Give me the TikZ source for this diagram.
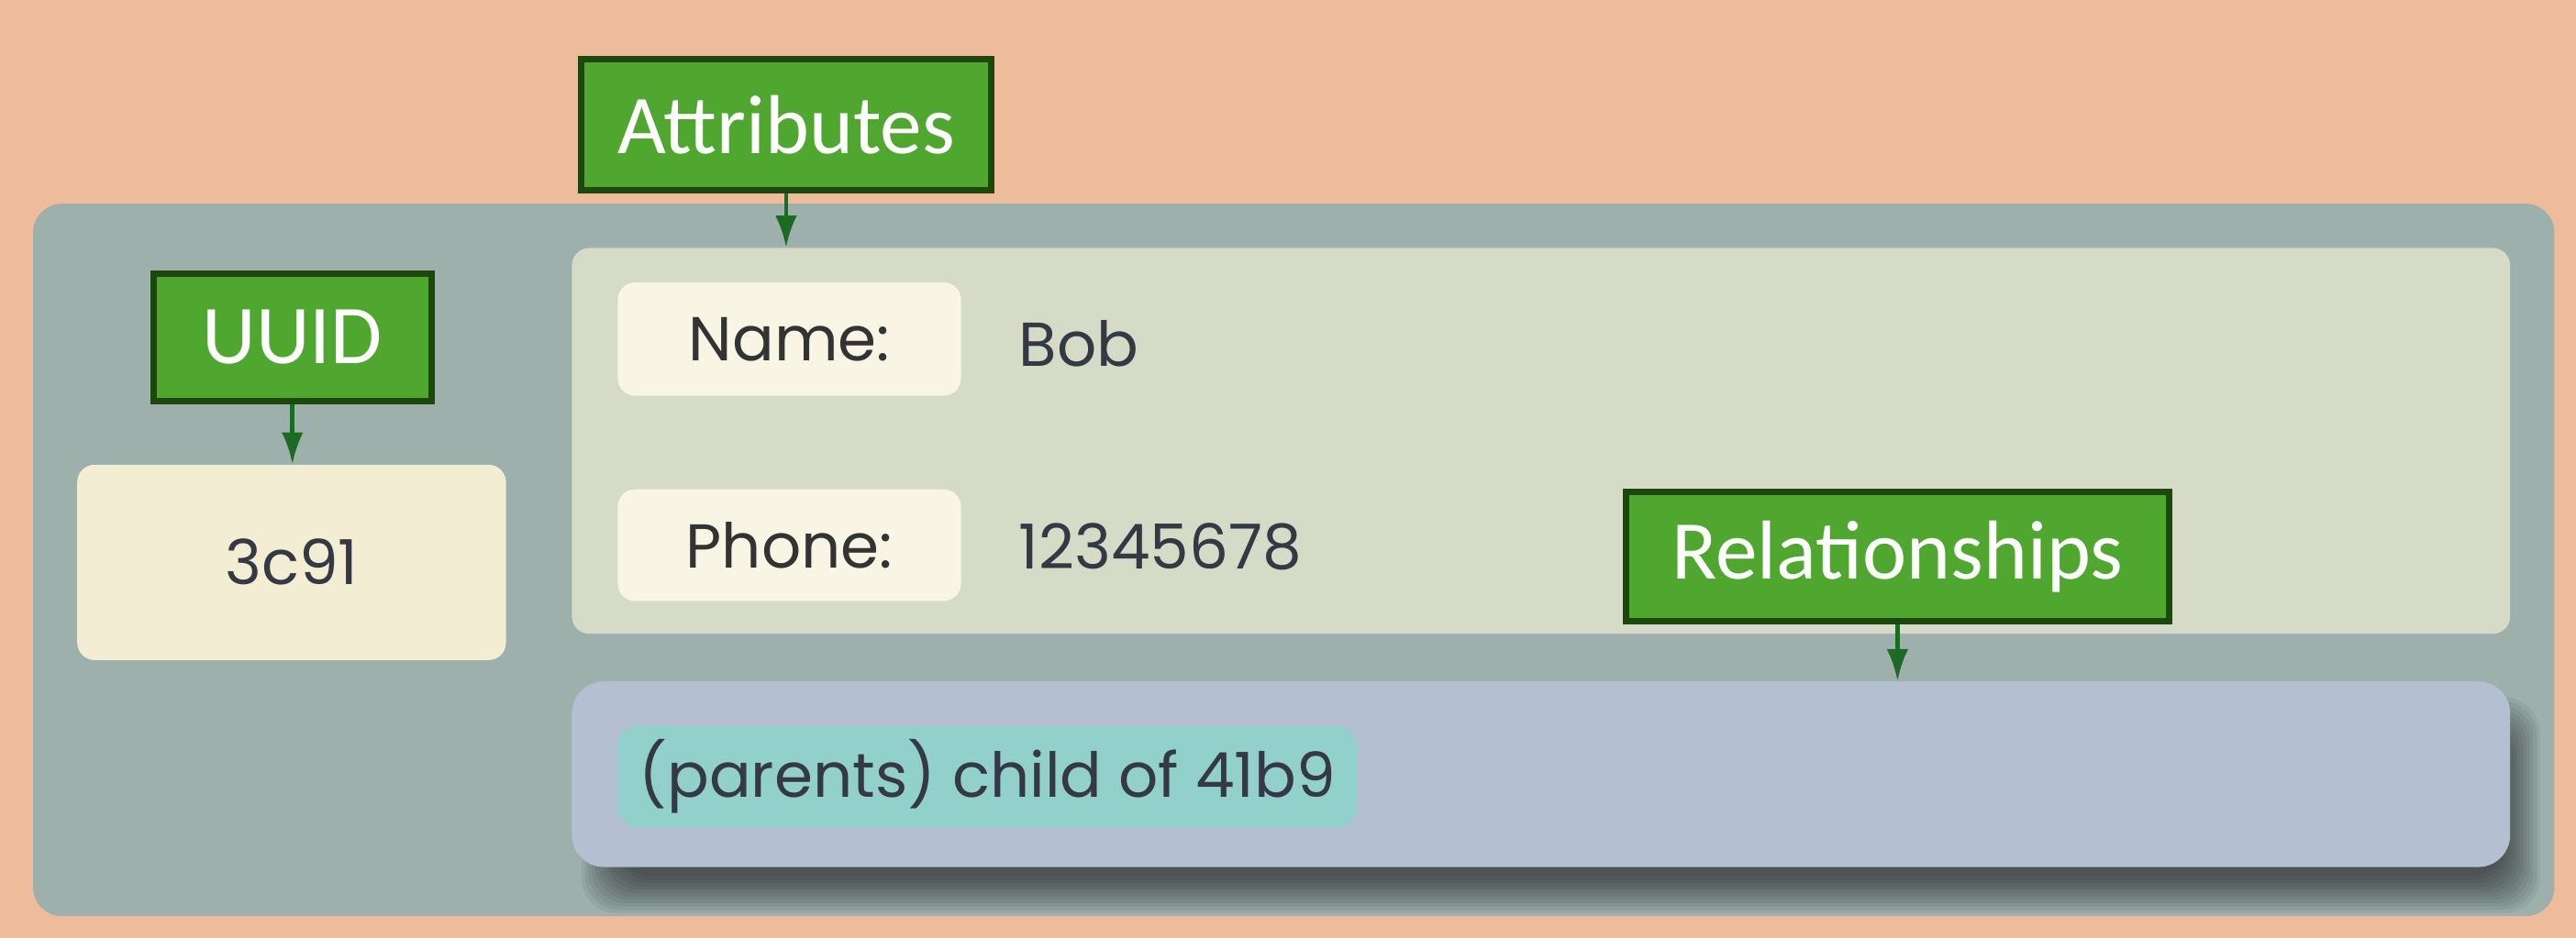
\documentclass[tikz,border=0pt]{standalone}
\usepackage{fontspec}
\setmainfont{Poppins}
\newfontfamily\calibri{Carlito}
\usetikzlibrary{arrows.meta}

\definecolor{peach}{HTML}{EFBC9B}
\definecolor{cardgray}{HTML}{9DB0AB}
\definecolor{attrfill}{HTML}{D6DBC8}
\definecolor{keyfill}{HTML}{F8F5E4}
\definecolor{idfill}{HTML}{F2EDD3}
\definecolor{relfill}{HTML}{B4C0D1}
\definecolor{chipfill}{HTML}{92D1CB}
\definecolor{taggreen}{HTML}{50A730}
\definecolor{tagdark}{HTML}{1C480E}
\definecolor{arrgreen}{HTML}{1B6B24}
\definecolor{txtgray}{HTML}{343944}

\begin{document}
\begin{tikzpicture}
  [x=0.02cm,y=-0.02cm,
   every node/.style={inner sep=0pt,text=txtgray,font=\fontsize{21.5}{25}\selectfont},
   panel/.style={fill=#1,rounded corners=6pt},
   tag/.style={draw=tagdark,line width=2.2pt,fill=taggreen,text=white,
     font=\calibri\fontsize{29}{34}\selectfont},
   arr/.style={draw=arrgreen,line width=1.5pt,-{Latex[length=11pt,width=7.5pt]}}]

  \fill[peach] (0,0) rectangle (1568,571);
  \useasboundingbox (0,0) rectangle (1568,571);

  % the card
  \node[panel=cardgray,rounded corners=10pt,minimum width=30.7cm,minimum height=8.68cm] (card) at (787.5,341) {};
  \node[panel=idfill,minimum width=5.22cm,minimum height=2.38cm] (uuidval) at (177.5,342.5) {3c91};
  \node[panel=attrfill,minimum width=23.6cm,minimum height=4.7cm] (attrs) at (938,268.5) {};
  \node[panel=keyfill,minimum width=4.18cm,minimum height=1.38cm,text=black!80] (namekey) at (480.5,206.5) {Name:};
  \node[panel=keyfill,minimum width=4.18cm,minimum height=1.36cm,text=black!80] (phonekey) at (480.5,332) {Phone:};
  \node[anchor=west] (nameval) at (620,209) {Bob};
  \node[anchor=west] (phoneval) at (620,333) {12345678};

  % shadow under relationships
  \foreach \i in {0,...,11}
    \fill[black,opacity=0.055,rounded corners=12pt] (354+2*\i,425+2*\i) rectangle (1546-2*\i,556-2*\i);
  \node[panel=relfill,rounded corners=11pt,minimum width=23.6cm,minimum height=2.26cm] (rels) at (938,471.5) {};
  \node[panel=chipfill,rounded corners=7pt,minimum width=9.0cm,minimum height=1.24cm] (chip) at (601,473) {(parents) child of 41b9};

  % labels
  \node[tag,minimum width=5.0cm,minimum height=1.6cm] (attrlabel) at (478.5,76) {Attributes};
  \node[tag,minimum width=3.38cm,minimum height=1.55cm] (uuidlabel) at (178,205.5) {UUID};
  \node[tag,minimum width=6.62cm,minimum height=1.57cm] (rellabel) at (1155,339) {Relationships};

  \foreach \from/\to in {uuidlabel/uuidval,attrlabel/attrs,rellabel/rels}
    \draw[arr] (\from.south) -- (\from.south |- \to.north);
\end{tikzpicture}
\end{document}
